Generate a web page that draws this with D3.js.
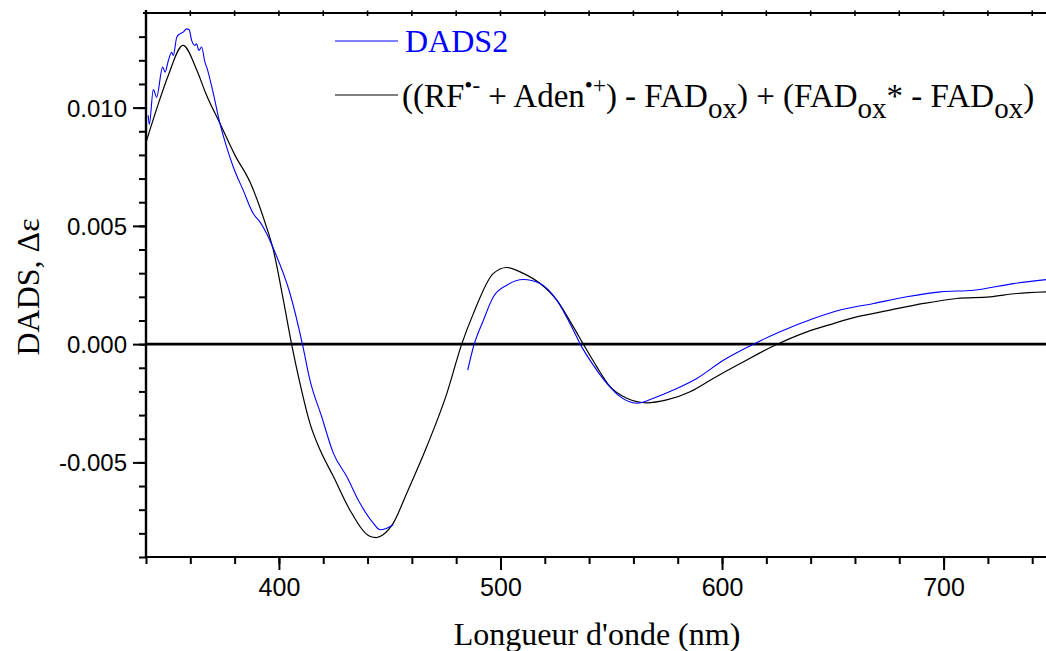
<!DOCTYPE html>
<html><head><meta charset="utf-8">
<script src="https://cdn.jsdelivr.net/npm/d3@7/dist/d3.min.js"></script>
<style>
body{margin:0;background:#fff;}
svg{display:block;}
</style></head>
<body>
<svg id="chart" width="1046" height="651"></svg>
<script>
// ---- data ----
const dadsWl = [341.0,341.5,343.3,344.8,347.5,348.6,350.1,351.6,352.3,353.9,355.3,356.8,358.3,359.5,360.6,362.1,362.8,363.9,365.1,366.6,367.4,370.4,373.4,376.4,379.4,383.9,388.4,391.5,394.5,397.5,405,410.6,414,419.3,424.6,430.6,436.6,442.6,445.6,448.7,451.6,
  468,
  485.2,487.8,492.3,496.8,502.8,510.3,517.9,525.4,532.9,536,541.9,548,554,561.5,569,578,588.6,600.6,614.2,626.2,641.3,653.3,668.4,683.4,698.5,713.5,731.6,746.5];
const dadsVal = [0.00967,0.00929,0.01076,0.01044,0.01171,0.0115,0.01199,0.01234,0.0122,0.01298,0.01312,0.01319,0.01333,0.01329,0.01284,0.01263,0.0127,0.01242,0.01256,0.01192,0.01171,0.01059,0.00932,0.00833,0.00749,0.0065,0.00552,0.00516,0.00467,0.00404,0.00214,0.0,-0.00152,-0.00307,-0.00462,-0.0056,-0.00673,-0.00757,-0.00785,-0.00778,-0.00764,
  null,
  -0.0011,-0.00011,0.00101,0.002,0.00249,0.00273,0.00256,0.00186,0.00059,0.0,-0.00089,-0.00166,-0.00222,-0.0025,-0.00229,-0.00194,-0.00145,-0.00068,0.0,0.00052,0.00108,0.00144,0.00172,0.002,0.00221,0.00228,0.00256,0.00273];

const sumWl = [340,345,350,356.7,363,367,373.4,380.2,387,393.7,397.5,402,405.8,409.5,414,418.6,424.6,432,441,444,447,451.6,457.7,466.7,475.8,482.5,487.8,496.8,502.8,510.3,517.9,525.4,532.9,537.4,543.5,549.5,557,566,575,585.6,596,608.2,623.2,638.3,650.3,660.8,675.9,691,706,721,733,746.5];
const sumVal = [0.00853,0.0100,0.01135,0.01263,0.01157,0.01060,0.00933,0.00798,0.00684,0.00515,0.00397,0.00186,-0.00004,-0.00166,-0.00335,-0.00448,-0.0056,-0.00701,-0.00812,-0.00818,-0.00806,-0.00757,-0.0063,-0.00434,-0.00208,0.0,0.0013,0.00299,0.00324,0.00299,0.00256,0.00186,0.00073,0.0,-0.00096,-0.0018,-0.00229,-0.00248,-0.00236,-0.00201,-0.00145,-0.00082,-0.00008,0.00052,0.00087,0.00115,0.00144,0.00172,0.00193,0.002,0.00214,0.00221];

const xMajorTicks = [400,500,600,700];
const xMinorTicks = d3.range(340, 750, 20);
const yMajorTicks = [-0.005,0.000,0.005,0.010];
const yMinorTicks = d3.range(-9, 14).map(d => d/1000);

const xTitle = "Longueur d'onde (nm)";
const yTitle = "DADS, Δε";
const legend1 = "DADS2";

// ---- layout ----
const svg = d3.select("#chart");
const L = 146, T = 13, B = 557;
const x = d3.scaleLinear().domain([340, 750]).range([L, L + 410*2.2155]);
const y = d3.scaleLinear().domain([-0.009, 0.014]).range([B, T]);

const sans = "'Liberation Sans', Arial, sans-serif";
const serif = "'Liberation Serif', 'Times New Roman', serif";

svg.append("defs").append("clipPath").attr("id","clip")
  .append("rect").attr("x",L).attr("y",T).attr("width",1046-L).attr("height",B-T);

// zero line
svg.append("line").attr("x1",L).attr("x2",1046).attr("y1",y(0)).attr("y2",y(0))
  .attr("stroke","#000").attr("stroke-width",2.6);

// curves
const g = svg.append("g").attr("clip-path","url(#clip)");
const lineSmooth = d3.line().defined(d => d[1] !== null).x(d => x(d[0])).y(d => y(d[1])).curve(d3.curveMonotoneX);
g.append("path").datum(sumWl.map((w,i)=>[w,sumVal[i]]))
  .attr("d",lineSmooth).attr("fill","none").attr("stroke","#000").attr("stroke-width",1.2);
g.append("path").datum(dadsWl.map((w,i)=>[w,dadsVal[i]]))
  .attr("d",lineSmooth).attr("fill","none").attr("stroke","#0000ff").attr("stroke-width",1.1);

// bottom axis
const gxMinor = svg.append("g").attr("transform",`translate(0,${B})`)
  .call(d3.axisBottom(x).tickValues(xMinorTicks).tickSize(7).tickFormat(""));
const gx = svg.append("g").attr("transform",`translate(0,${B})`)
  .call(d3.axisBottom(x).tickValues(xMajorTicks).tickSize(13).tickPadding(8).tickFormat(d3.format("d")));
[gxMinor,gx].forEach(a=>{a.select(".domain").remove(); a.selectAll("line").attr("stroke","#000").attr("stroke-width",2);});
gx.selectAll("text").attr("font-family",sans).attr("font-size",25).attr("fill","#000");
svg.append("line").attr("x1",L-1).attr("x2",1046).attr("y1",B).attr("y2",B).attr("stroke","#000").attr("stroke-width",2.2);

// left axis
const fmtY = v => d3.format(".3f")(v).replace("\u2212","-");
const gyMinor = svg.append("g").attr("transform",`translate(${L},0)`)
  .call(d3.axisLeft(y).tickValues(yMinorTicks).tickSize(7).tickFormat(""));
const gy = svg.append("g").attr("transform",`translate(${L},0)`)
  .call(d3.axisLeft(y).tickValues(yMajorTicks).tickSize(13).tickPadding(6).tickFormat(fmtY));
[gyMinor,gy].forEach(a=>{a.select(".domain").remove(); a.selectAll("line").attr("stroke","#000").attr("stroke-width",2);});
gy.selectAll("text").attr("font-family",sans).attr("font-size",24).attr("fill","#000").attr("dy","0.35em");
svg.append("line").attr("x1",L).attr("x2",L).attr("y1",T-3).attr("y2",B+1).attr("stroke","#000").attr("stroke-width",2.4);

// top axis
svg.append("line").attr("x1",L-3).attr("x2",1046).attr("y1",T).attr("y2",T).attr("stroke","#000").attr("stroke-width",2.2);
svg.append("g").selectAll("line").data(xMinorTicks.filter(d=>d>340)).join("line")
  .attr("x1",d=>x(d)).attr("x2",d=>x(d)).attr("y1",T-2.5).attr("y2",T+3)
  .attr("stroke","#000").attr("stroke-width",1.6);

// titles
svg.append("text").attr("x",597).attr("y",645).attr("text-anchor","middle")
  .attr("font-family",serif).attr("font-size",32).text(xTitle);
svg.append("text").attr("transform","translate(39,287) rotate(-90)").attr("text-anchor","middle")
  .attr("font-family",serif).attr("font-size",32).text(yTitle);

// legend
svg.append("line").attr("x1",335).attr("x2",398).attr("y1",41).attr("y2",41).attr("stroke","#0000ff").attr("stroke-width",1.2);
svg.append("text").attr("x",405).attr("y",52).attr("font-family",serif).attr("font-size",32).attr("fill","#0000ff").text(legend1);
svg.append("line").attr("x1",335).attr("x2",398).attr("y1",95).attr("y2",95).attr("stroke","#000").attr("stroke-width",1.2);

const parts = [
  {t:"((RF"}, {t:"•-", s:"sup"}, {t:" + Aden"}, {t:"•+", s:"sup"}, {t:") - FAD"}, {t:"ox", s:"sub"},
  {t:") + (FAD"}, {t:"ox", s:"sub"}, {t:"* - FAD"}, {t:"ox", s:"sub"}, {t:")"}
];
const lt = svg.append("text").attr("x",402).attr("y",107).attr("font-family",serif).attr("font-size",33).attr("fill","#000");
let cur = 0;
parts.forEach(p=>{
  const target = p.s==="sup" ? -14 : p.s==="sub" ? 11 : 0;
  const ts = lt.append("tspan").attr("dy", target-cur).text(p.t);
  if (p.s) ts.attr("font-size", p.s==="sup" ? 23 : 29);
  cur = target;
});
</script>
</body></html>
